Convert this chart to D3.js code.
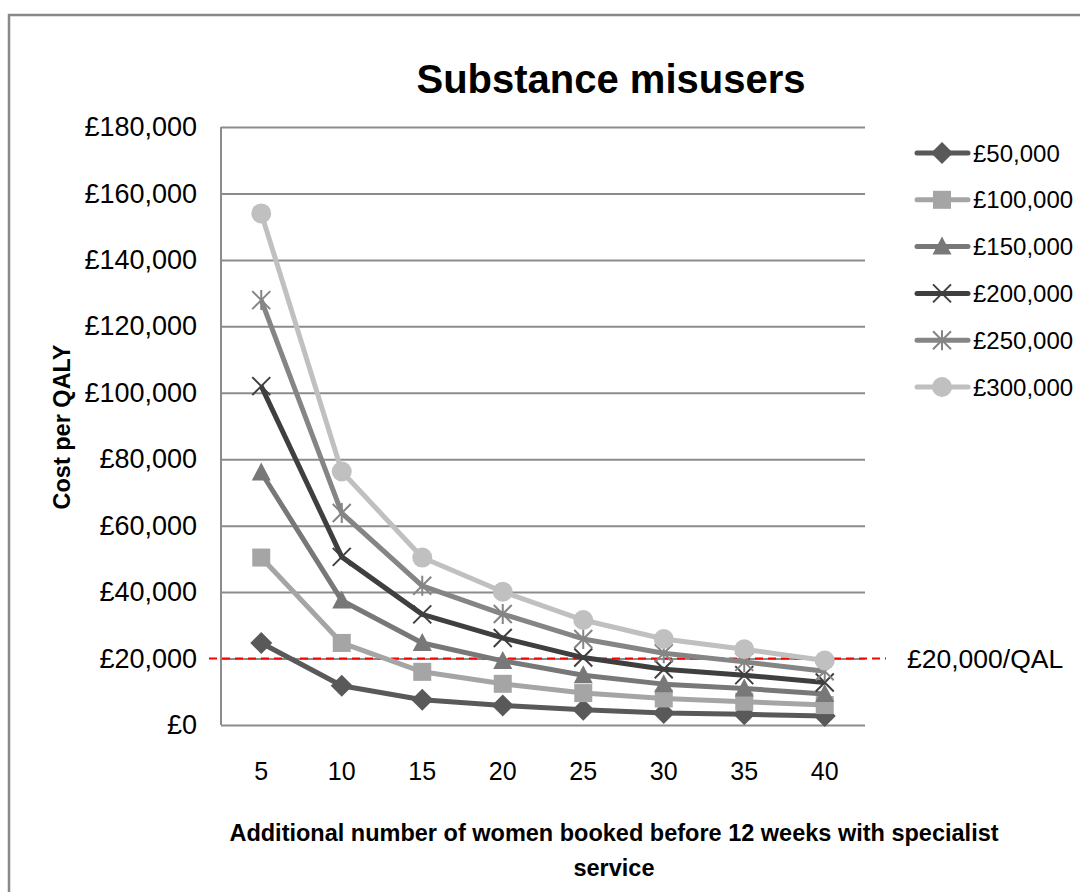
<!DOCTYPE html>
<html lang="en">

<head>
    <meta charset="UTF-8">
    <title>Substance misusers</title>
    <script src="https://d3js.org/d3.v7.min.js"></script>
    <style>
        body { margin: 0; background: #fff; }
        text { font-family: "Liberation Sans", Arial, sans-serif; }
    </style>
</head>

<body>
    <svg id="chart" width="1080" height="892"></svg>

    <script>
        // Data
        const categories = [5, 10, 15, 20, 25, 30, 35, 40];
        const seriesNames = ["£50,000", "£100,000", "£150,000", "£200,000", "£250,000", "£300,000"];
        const values50k = [24700, 11800, 7600, 5900, 4600, 3600, 3200, 2700];
        const values100k = [50400, 24700, 16000, 12400, 9600, 8000, 7000, 6000];
        const values150k = [76000, 37500, 24700, 19300, 15000, 12300, 11000, 9300];
        const values200k = [102000, 50600, 33300, 26200, 20300, 16800, 15000, 12800];
        const values250k = [127900, 63800, 41900, 33400, 25900, 21600, 19000, 16200];
        const values300k = [154000, 76300, 50400, 40100, 31600, 25900, 22800, 19400];
        const yTicks = [0, 20000, 40000, 60000, 80000, 100000, 120000, 140000, 160000, 180000];
        const thresholdValue = 20000;
        const thresholdLabel = "£20,000/QAL";

        const allValues = [values50k, values100k, values150k, values200k, values250k, values300k];
        const colors = ["#595959", "#a5a5a5", "#787878", "#3f3f3f", "#858585", "#c0c0c0"];
        const symbols = ["diamond", "square", "triangle", "cross", "star", "circle"];

        const svg = d3.select("#chart");

        // outer chart frame (runs off the right and bottom)
        svg.append("rect")
            .attr("x", 9)
            .attr("y", 15)
            .attr("width", 1200)
            .attr("height", 1000)
            .attr("fill", "none")
            .attr("stroke", "#898989")
            .attr("stroke-width", 2.5);

        // plot area
        const plotLeft = 221, plotRight = 865, plotTop = 127, plotBottom = 725;

        const xScale = d3.scaleBand()
            .domain(categories)
            .range([plotLeft, plotRight]);

        const yScale = d3.scaleLinear()
            .domain([0, 180000])
            .range([plotBottom, plotTop]);

        const cx = d => xScale(d) + xScale.bandwidth() / 2;

        // y axis with gridlines
        const yAxis = svg.append("g")
            .attr("transform", `translate(${plotLeft},0)`)
            .call(d3.axisLeft(yScale)
                .tickValues(yTicks)
                .tickSize(-(plotRight - plotLeft))
                .tickPadding(24)
                .tickFormat(d => "£" + d3.format(",")(d)));
        yAxis.select(".domain").remove();
        yAxis.selectAll("line")
            .attr("stroke", "#8c8c8c")
            .attr("stroke-width", 2);
        yAxis.selectAll("text")
            .attr("fill", "#000")
            .style("font-size", "27px");

        // left axis line
        svg.append("line")
            .attr("x1", plotLeft).attr("x2", plotLeft)
            .attr("y1", plotTop).attr("y2", plotBottom)
            .attr("stroke", "#8c8c8c")
            .attr("stroke-width", 2);

        // x axis labels
        const xAxis = svg.append("g")
            .attr("transform", `translate(0,${plotBottom})`)
            .call(d3.axisBottom(xScale).tickSize(0).tickPadding(37));
        xAxis.select(".domain").remove();
        xAxis.selectAll("text")
            .attr("fill", "#000")
            .style("font-size", "25px");

        // red threshold line
        svg.append("line")
            .attr("x1", 209).attr("x2", 886)
            .attr("y1", yScale(thresholdValue)).attr("y2", yScale(thresholdValue))
            .attr("stroke", "#ff0000")
            .attr("stroke-width", 2)
            .attr("stroke-dasharray", "8,5");

        svg.append("text")
            .attr("x", 907)
            .attr("y", yScale(thresholdValue) + 9)
            .style("font-size", "26.5px")
            .text(thresholdLabel);

        // marker drawing helper
        function drawMarker(g, type, color, x, y) {
            if (type === "diamond") {
                g.append("path")
                    .attr("d", `M${x},${y - 11}L${x + 11},${y}L${x},${y + 11}L${x - 11},${y}Z`)
                    .attr("fill", color);
            } else if (type === "square") {
                g.append("rect")
                    .attr("x", x - 9).attr("y", y - 9)
                    .attr("width", 18).attr("height", 18)
                    .attr("fill", color);
            } else if (type === "triangle") {
                g.append("path")
                    .attr("d", `M${x},${y - 10}L${x + 9.5},${y + 8}L${x - 9.5},${y + 8}Z`)
                    .attr("fill", color);
            } else if (type === "cross") {
                g.append("path")
                    .attr("d", `M${x - 9},${y - 9}L${x + 9},${y + 9}M${x + 9},${y - 9}L${x - 9},${y + 9}`)
                    .attr("stroke", color)
                    .attr("stroke-width", 2);
            } else if (type === "star") {
                g.append("path")
                    .attr("d", `M${x - 9},${y - 9}L${x + 9},${y + 9}M${x + 9},${y - 9}L${x - 9},${y + 9}M${x},${y - 10}L${x},${y + 10}`)
                    .attr("stroke", color)
                    .attr("stroke-width", 2);
            } else {
                g.append("circle")
                    .attr("cx", x).attr("cy", y)
                    .attr("r", 10)
                    .attr("fill", color);
            }
        }

        const line = d3.line()
            .x((d, i) => cx(categories[i]))
            .y(d => yScale(d));

        // series lines and markers
        allValues.forEach((vals, s) => {
            const g = svg.append("g");
            g.append("path")
                .datum(vals)
                .attr("fill", "none")
                .attr("stroke", colors[s])
                .attr("stroke-width", 5)
                .attr("stroke-linejoin", "round")
                .attr("d", line);
            vals.forEach((v, i) => drawMarker(g, symbols[s], colors[s], cx(categories[i]), yScale(v)));
        });

        // legend
        const legend = svg.append("g");
        seriesNames.forEach((name, s) => {
            const y = 153 + s * 46.8;
            legend.append("line")
                .attr("x1", 917).attr("x2", 968)
                .attr("y1", y).attr("y2", y)
                .attr("stroke", colors[s])
                .attr("stroke-width", 5)
                .attr("stroke-linecap", "round");
            drawMarker(legend, symbols[s], colors[s], 942, y);
            legend.append("text")
                .attr("x", 973)
                .attr("y", y + 8.5)
                .style("font-size", "24px")
                .text(name);
        });

        // title
        svg.append("text")
            .attr("x", 611)
            .attr("y", 93)
            .attr("text-anchor", "middle")
            .style("font-size", "40px")
            .style("font-weight", "bold")
            .text("Substance misusers");

        // axis titles
        svg.append("text")
            .attr("transform", "translate(70,427) rotate(-90)")
            .attr("text-anchor", "middle")
            .style("font-size", "23.5px")
            .style("font-weight", "bold")
            .text("Cost per QALY");

        svg.append("text")
            .attr("x", 614)
            .attr("y", 841)
            .attr("text-anchor", "middle")
            .style("font-size", "23.5px")
            .style("font-weight", "bold")
            .text("Additional number of women booked before 12 weeks with specialist");

        svg.append("text")
            .attr("x", 614)
            .attr("y", 876)
            .attr("text-anchor", "middle")
            .style("font-size", "23.5px")
            .style("font-weight", "bold")
            .text("service");
    </script>
</body>

</html>
